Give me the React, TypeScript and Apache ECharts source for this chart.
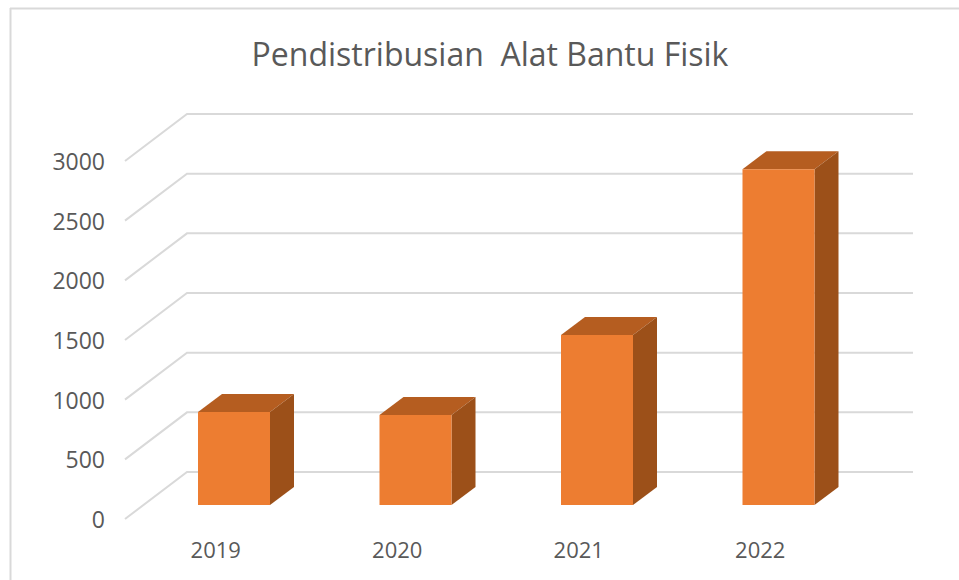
import React, { useEffect, useRef } from "react";
import * as echarts from "echarts";

const titleText = "Pendistribusian  Alat Bantu Fisik";
const years = ["2019", "2020", "2021", "2022"];
const values = [779, 754, 1424, 2814];
const yTicks = [0, 500, 1000, 1500, 2000, 2500, 3000];

const FONT = "'Open Sans', 'Noto Sans', sans-serif";
const TEXT = "#595959";
const GRID = "#d9d9d9";

export default function App() {
  const ref = useRef<HTMLDivElement>(null);
  useEffect(() => {
    document.body.style.margin = "0";
    const chart = echarts.init(ref.current!, null, { renderer: "svg" });
    const wallDX = 62, wallDY = 47;
    const barDX = 18.75, barDY = 14;
    const depthX = 24, depthY = 18;
    const barW = 72;
    chart.setOption({
      animation: false,
      backgroundColor: "#ffffff",
      title: {
        text: titleText,
        left: 485, top: 32, textAlign: "center",
        textStyle: { fontFamily: FONT, fontSize: 32, fontWeight: 400, color: TEXT },
      },
      grid: { left: 125, top: 161, width: 726, height: 358 },
      xAxis: {
        type: "category", data: years,
        axisLine: { show: false }, axisTick: { show: false },
        axisLabel: { fontFamily: FONT, fontSize: 22, color: TEXT, margin: 19 },
      },
      yAxis: {
        type: "value", min: 0, max: 3000, interval: 500,
        axisLine: { show: false }, axisTick: { show: false }, splitLine: { show: false },
        axisLabel: { fontFamily: FONT, fontSize: 23, color: TEXT, margin: 20, formatter: (v: number) => String(v) },
      },
      series: [
        {
          type: "custom", name: "Grid", silent: true, z: 1,
          data: yTicks.map((t) => [0, t]),
          renderItem: (params: any, api: any) => {
            const cs = params.coordSys;
            const y = api.coord([0, api.value(1)])[1];
            return {
              type: "polyline",
              shape: { points: [[cs.x, y], [cs.x + wallDX, y - wallDY], [cs.x + wallDX + cs.width, y - wallDY]] },
              style: { stroke: GRID, lineWidth: 2, fill: "none" },
            };
          },
        },
        {
          type: "custom", name: "Pendistribusian", z: 2,
          data: values.map((v, i) => [i, v]),
          encode: { x: 0, y: 1 },
          renderItem: (_p: any, api: any) => {
            const top = api.coord([api.value(0), api.value(1)]);
            const base = api.coord([api.value(0), 0]);
            const l = top[0] + barDX - 36.5, r = l + barW;
            const t = top[1] - barDY, b = base[1] - barDY;
            return {
              type: "group",
              children: [
                { type: "polygon", shape: { points: [[l, t], [l + depthX, t - depthY], [r + depthX, t - depthY], [r, t]] }, style: { fill: "#b55d20" } },
                { type: "polygon", shape: { points: [[r, t], [r + depthX, t - depthY], [r + depthX, b - depthY], [r, b]] }, style: { fill: "#9c5019" } },
                { type: "rect", shape: { x: l, y: t, width: barW, height: b - t }, style: { fill: "#ed7d31" } },
              ],
            };
          },
        },
      ],
      graphic: [
        { type: "line", shape: { x1: 10.5, y1: 8, x2: 10.5, y2: 580 }, style: { stroke: GRID, lineWidth: 2 } },
        { type: "line", shape: { x1: 10, y1: 8.5, x2: 959, y2: 8.5 }, style: { stroke: GRID, lineWidth: 2 } },
      ],
    });
    return () => chart.dispose();
  }, []);
  return <div ref={ref} style={{ width: 959, height: 580 }} />;
}
